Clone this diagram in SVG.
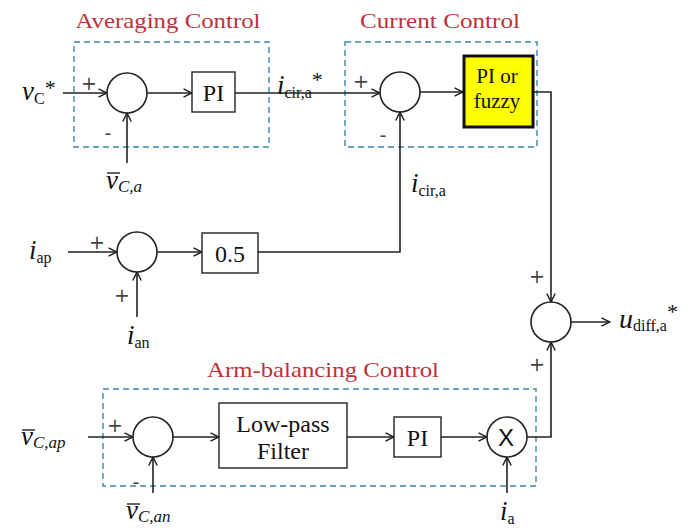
<svg xmlns="http://www.w3.org/2000/svg" width="696" height="530" viewBox="0 0 696 530">
<defs>
<marker id="arr" markerUnits="userSpaceOnUse" viewBox="0 0 10 10" refX="9.5" refY="5" markerWidth="10" markerHeight="10" orient="auto">
<path d="M1,0.8 L9.5,5 L1,9.2" fill="none" stroke="#222" stroke-width="1.5"/>
</marker>
</defs>
<style>
text{font-family:'Liberation Serif','Times New Roman',serif}
.ln{fill:none;stroke:#222;stroke-width:1.6}
.sum{fill:#fff;stroke:#222;stroke-width:1.6}
.blk{fill:#fff;stroke:#222;stroke-width:1.4}
.grp{fill:none;stroke:#3a86a8;stroke-width:1.4;stroke-dasharray:6,4}
.ttl{font-size:22px;fill:#c0303a;text-anchor:middle}
.bt{font-size:24px;fill:#111;text-anchor:middle}
.sg{font-family:'DejaVu Sans',sans-serif;font-size:19px;fill:#444;text-anchor:middle}
.lb{font-size:27px;fill:#111}
.it{font-style:italic}
.s{font-size:16px}
.bar{stroke:#111;stroke-width:1.3}
</style>

<g id="avg-group">
<rect class="grp" x="74" y="42" width="195" height="105"/>
<text class="ttl" x="168" y="28" textLength="185" lengthAdjust="spacingAndGlyphs">Averaging Control</text>
</g>
<g id="cur-group">
<rect class="grp" x="345" y="42" width="192" height="105"/>
<text class="ttl" x="440" y="28" textLength="160" lengthAdjust="spacingAndGlyphs">Current Control</text>
</g>
<g id="arm-group">
<rect class="grp" x="103" y="389" width="433" height="97"/>
<text class="ttl" x="323" y="377" textLength="232" lengthAdjust="spacingAndGlyphs">Arm-balancing Control</text>
</g>

<g id="connectors">
<path class="ln" d="M63,93 H107" marker-end="url(#arr)"/>
<path class="ln" d="M127,163 V113" marker-end="url(#arr)"/>
<path class="ln" d="M147,93 H192" marker-end="url(#arr)"/>
<path class="ln" d="M235,93 H380" marker-end="url(#arr)"/>
<path class="ln" d="M420,92 H463" marker-end="url(#arr)"/>
<path class="ln" d="M534,92 H551 V302" marker-end="url(#arr)"/>
<path class="ln" d="M68,252 H117" marker-end="url(#arr)"/>
<path class="ln" d="M137,317 V272" marker-end="url(#arr)"/>
<path class="ln" d="M157,252 H202" marker-end="url(#arr)"/>
<path class="ln" d="M258,252 H400 V112" marker-end="url(#arr)"/>
<path class="ln" d="M571,322 H610" marker-end="url(#arr)"/>
<path class="ln" d="M88,437 H133" marker-end="url(#arr)"/>
<path class="ln" d="M153,493 V457" marker-end="url(#arr)"/>
<path class="ln" d="M173,437 H219" marker-end="url(#arr)"/>
<path class="ln" d="M347,437 H394" marker-end="url(#arr)"/>
<path class="ln" d="M441,437 H487" marker-end="url(#arr)"/>
<path class="ln" d="M507,493 V457" marker-end="url(#arr)"/>
<path class="ln" d="M527,437 H551 V342" marker-end="url(#arr)"/>
</g>

<g id="sum1">
<circle class="sum" cx="127" cy="93" r="20"/>
<text class="sg" x="89" y="90">+</text>
<text class="sg" x="108" y="140">-</text>
</g>
<g id="pi1">
<rect class="blk" x="192" y="72" width="43" height="40"/>
<text class="bt" x="213.5" y="101">PI</text>
</g>
<g id="sum2">
<circle class="sum" cx="400" cy="92" r="20"/>
<text class="sg" x="361" y="88">+</text>
<text class="sg" x="383" y="142">-</text>
</g>
<g id="pi-fuzzy">
<rect x="464" y="56" width="69" height="71" fill="#ffff00" stroke="#111" stroke-width="3"/>
<text class="bt" x="497" y="83" style="font-size:21px">PI or</text>
<text class="bt" x="497" y="108" style="font-size:21px">fuzzy</text>
</g>
<g id="sum3">
<circle class="sum" cx="137" cy="252" r="20"/>
<text class="sg" x="97" y="249">+</text>
<text class="sg" x="122" y="302">+</text>
</g>
<g id="gain">
<rect class="blk" x="202" y="233" width="56" height="40"/>
<text class="bt" x="230" y="262">0.5</text>
</g>
<g id="sum4">
<circle class="sum" cx="551" cy="322" r="20"/>
<text class="sg" x="537" y="283">+</text>
<text class="sg" x="537" y="371">+</text>
</g>
<g id="sum5">
<circle class="sum" cx="153" cy="437" r="20"/>
<text class="sg" x="115" y="432">+</text>
<text class="sg" x="136" y="489">-</text>
</g>
<g id="lpf">
<rect class="blk" x="219" y="403" width="128" height="65"/>
<text class="bt" x="283" y="432">Low-pass</text>
<text class="bt" x="283" y="459">Filter</text>
</g>
<g id="pi2">
<rect class="blk" x="394" y="417" width="47" height="40"/>
<text class="bt" x="417.5" y="446">PI</text>
</g>
<g id="mult">
<circle class="sum" cx="507" cy="437" r="20"/>
<text x="506" y="446" style="font-family:'Liberation Sans',sans-serif;font-size:24px;fill:#111;text-anchor:middle">X</text>
</g>

<g id="labels">
<text class="lb" x="22" y="100"><tspan class="it">v</tspan><tspan class="s" dy="4">C</tspan><tspan dy="-9" style="font-size:22px">*</tspan></text>
<text class="lb" x="277" y="94"><tspan class="it">i</tspan><tspan class="s" dy="4">cir,a</tspan><tspan dy="-11" style="font-size:22px">*</tspan></text>
<line class="bar" x1="107" y1="173" x2="120" y2="173"/>
<text class="lb it" x="106" y="189">v<tspan style="font-size:17px" dy="3">C,a</tspan></text>
<text class="lb" x="411" y="192"><tspan class="it">i</tspan><tspan class="s" dy="4">cir,a</tspan></text>
<text class="lb" x="29" y="259"><tspan class="it">i</tspan><tspan class="s" dy="4">ap</tspan></text>
<text class="lb" x="127" y="344"><tspan class="it">i</tspan><tspan class="s" dy="4">an</tspan></text>
<text class="lb" x="619" y="328" style="font-size:28px"><tspan class="it">u</tspan><tspan class="s" dy="3">diff,a</tspan><tspan dy="-12" style="font-size:22px">*</tspan></text>
<line class="bar" x1="22" y1="430" x2="35" y2="430"/>
<text class="lb it" x="21" y="445">v<tspan style="font-size:17px" dy="3">C,ap</tspan></text>
<line class="bar" x1="127" y1="504" x2="140" y2="504"/>
<text class="lb it" x="126" y="519">v<tspan style="font-size:17px" dy="3">C,an</tspan></text>
<text class="lb" x="500" y="520"><tspan class="it">i</tspan><tspan class="s" dy="4">a</tspan></text>
</g>
</svg>
